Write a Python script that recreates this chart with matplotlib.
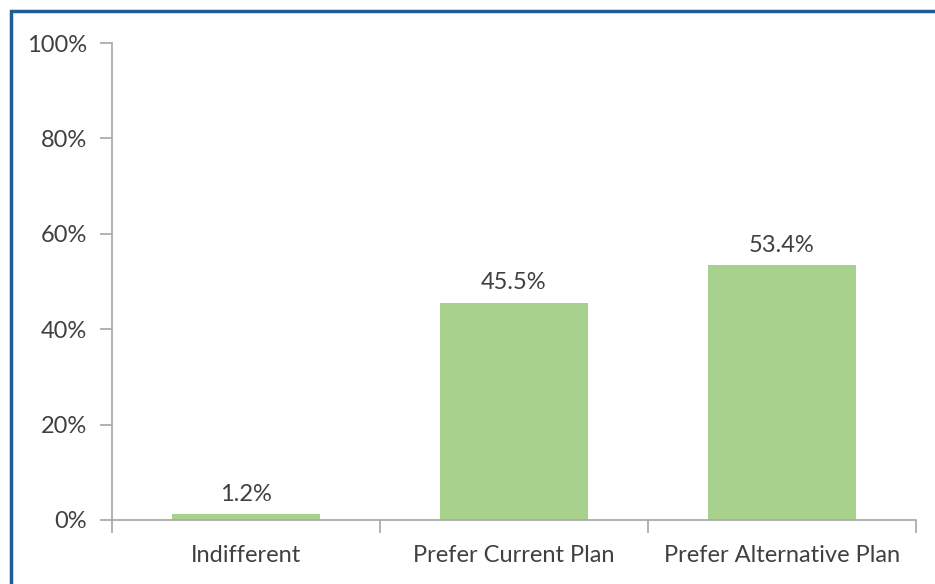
import matplotlib
matplotlib.use("Agg")
import matplotlib.pyplot as plt
from matplotlib.patches import Rectangle
from matplotlib.ticker import FuncFormatter

categories = ["Indifferent", "Prefer Current Plan", "Prefer Alternative Plan"]
values = [1.2, 45.5, 53.4]
yticks = [0, 20, 40, 60, 80, 100]

plt.rcParams['font.family'] = ['Lato', 'DejaVu Sans']
txt = '#404040'
axc = '#A6A6A6'
fs = 17

fig = plt.figure(figsize=(9.35, 5.84), dpi=100)
ax = fig.add_axes([112/935, 1-520/584, (916-112)/935, (520-43)/584])

x = list(range(len(categories)))
ax.bar(x, values, width=0.55, color='#A9D18E', zorder=2)
for xi, v in zip(x, values):
    ax.annotate(f"{v:.1f}%", (xi, v), xytext=(0, 7), textcoords='offset points',
                ha='center', va='bottom', fontsize=fs, color=txt)

ax.set_xlim(-0.5, len(categories)-0.5)
ax.set_ylim(0, 100)
ax.set_yticks(yticks)
ax.yaxis.set_major_formatter(FuncFormatter(lambda v, p: f"{v:.0f}%"))
ax.set_xticks([i - 0.5 for i in range(len(categories)+1)], minor=False)
ax.set_xticklabels([])
ax.set_xticks(x, minor=True)
ax.set_xticklabels(categories, minor=True)
ax.tick_params(axis='x', which='minor', length=0, pad=18, labelsize=fs, labelcolor=txt)
ax.tick_params(axis='x', which='major', length=9, width=1.2, color=axc, direction='out')
ax.tick_params(axis='y', length=9, width=1.2, color=axc, direction='out', pad=9,
               labelsize=fs, labelcolor=txt)
for s in ['top', 'right']:
    ax.spines[s].set_visible(False)
for s in ['left', 'bottom']:
    ax.spines[s].set_color(axc)
    ax.spines[s].set_linewidth(1.2)

fig.patches.append(Rectangle((11/935, -0.1), 1.2, (1 - 11/584) + 0.1,
                             transform=fig.transFigure, fill=False,
                             edgecolor='#1F5C99', linewidth=2.5, clip_on=False))

fig.savefig('out.png', dpi=100)
